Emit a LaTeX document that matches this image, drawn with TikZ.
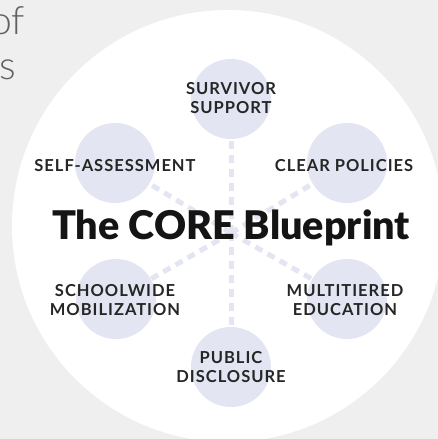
\documentclass[tikz,border=0pt]{standalone}
\usepackage{fontspec}
\setmainfont{Lato}[BoldFont={Lato Black}]
\newfontfamily\tagfont{Lato Bold}[LetterSpace=6]
\newfontfamily\thinfont{Lato Light}
\usepackage{tikz}
\usetikzlibrary{positioning}

\definecolor{slidegray}{HTML}{EFEFEF}
\definecolor{lavender}{HTML}{E3E6F2}
\definecolor{inkgray}{HTML}{262626}

\begin{document}
\begin{tikzpicture}[x=1pt,y=-1pt,
		dot/.style={circle,fill=lavender,minimum size=80pt,inner sep=0pt},
		spoke/.style={lavender,line width=5pt,dash pattern=on 8pt off 6pt},
		pillar/.style={font=\tagfont\fontsize{16.5}{19}\selectfont,text=inkgray,align=center,inner sep=0pt},
		scrap/.style={font=\thinfont\fontsize{39}{44}\selectfont,text=black!62,anchor=south east,inner sep=0pt,text depth=0pt}]
		\useasboundingbox (0,0) rectangle (438,439);
		\fill[slidegray] (0,0) rectangle (438,439);
		\fill[white] (228,226) circle (216pt);
		% bits of the slide text behind
		\node[scrap] (of) at (25,35) {of};
		\node[scrap] (s) at (16,80) {s};
		\coordinate (core) at (231,233);
		\draw[spoke] (core) -- (231,99);
		\draw[spoke] (core) -- (115,163);
		\draw[spoke] (core) -- (347,163);
		\draw[spoke] (core) -- (116,299);
		\draw[spoke] (core) -- (347,299);
		\draw[spoke] (core) -- (231,367);
		\node[dot] (survivor) at (231,99) {};
		\node[dot] (selfassess) at (115,163) {};
		\node[dot] (policies) at (347,163) {};
		\node[dot] (schoolwide) at (116,299) {};
		\node[dot] (multitiered) at (347,299) {};
		\node[dot] (disclosure) at (231,367) {};
		\node[pillar] (survivor text) at (231,98) {SURVIVOR\\SUPPORT};
		\node[pillar] (selfassess text) at (115,166) {SELF-ASSESSMENT};
		\node[pillar] (policies text) at (344,166) {CLEAR POLICIES};
		\node[pillar] (schoolwide text) at (115,300) {SCHOOLWIDE\\MOBILIZATION};
		\node[pillar] (multitiered text) at (345,300) {MULTITIERED\\EDUCATION};
		\node[pillar] (disclosure text) at (231,367) {PUBLIC\\DISCLOSURE};
		\node[font=\bfseries\fontsize{39.5}{42}\selectfont,text=black!92,anchor=south,inner sep=0pt,text depth=0pt] (title) at (231,240) {The CORE Blueprint};
	\end{tikzpicture}
\end{document}
